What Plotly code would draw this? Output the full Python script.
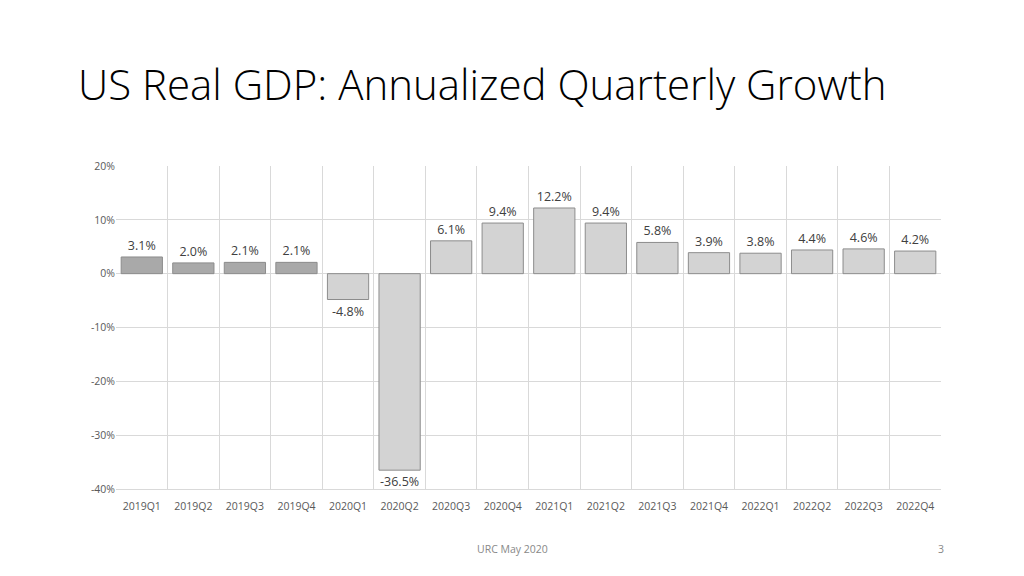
import plotly.graph_objects as go

quarters = ["2019Q1","2019Q2","2019Q3","2019Q4","2020Q1","2020Q2","2020Q3","2020Q4",
            "2021Q1","2021Q2","2021Q3","2021Q4","2022Q1","2022Q2","2022Q3","2022Q4"]
growth = [3.1,2.0,2.1,2.1,-4.8,-36.5,6.1,9.4,12.2,9.4,5.8,3.9,3.8,4.4,4.6,4.2]
yticks = [-40, -30, -20, -10, 0, 10, 20]
ytick_labels = ["-40%", "-30%", "-20%", "-10%", "0%", "10%", "20%"]
labels = [f"{v:.1f}%" for v in growth]
colors = ["#a9a9a9" if q.startswith("2019") else "#d3d3d3" for q in quarters]
xs = list(range(len(quarters)))

fig = go.Figure(go.Bar(
    x=xs, y=growth, text=labels, textposition="outside",
    textfont=dict(size=12.5, color="#404040"), cliponaxis=False,
    marker=dict(color=colors, line=dict(color="#8c8c8c", width=1)),
    width=0.8,
))
fig.update_layout(
    width=1024, height=576, paper_bgcolor="white", plot_bgcolor="white",
    margin=dict(l=108, r=91, t=158, b=95, autoexpand=False), showlegend=False,
    font=dict(family="Open Sans, sans-serif", color="#595959"),
    title=dict(text="US Real GDP: Annualized Quarterly Growth", x=70/1024, xanchor="left",
               y=1-77/576, yanchor="middle",
               font=dict(size=42, color="#000000", family="Open Sans, sans-serif", weight=300)),
    xaxis=dict(range=[-0.5, 15.5], tickvals=xs, ticktext=quarters, showgrid=False,
               tickfont=dict(size=10.5), ticks="outside", ticklen=7, tickcolor="rgba(0,0,0,0)",
               showline=True, linecolor="#d9d9d9",
               minor=dict(tickvals=[i + 0.5 for i in range(-1, 16)], showgrid=True,
                          gridcolor="#d9d9d9", ticks=""), zeroline=False),
    yaxis=dict(range=[-40, 20], tickvals=yticks, ticktext=ytick_labels, gridcolor="#d9d9d9",
               zeroline=True, zerolinecolor="#d9d9d9", zerolinewidth=1,
               tickfont=dict(size=10.5), showline=False),
    annotations=[
        dict(text="URC May 2020", x=0.481, y=-0.215, xref="paper", yref="paper",
             showarrow=False, font=dict(size=10.5, color="#888888")),
        dict(text="3", x=1.006, y=-0.215, xref="paper", yref="paper",
             showarrow=False, font=dict(size=10.5, color="#888888")),
    ],
)
fig.write_html("out.html")
